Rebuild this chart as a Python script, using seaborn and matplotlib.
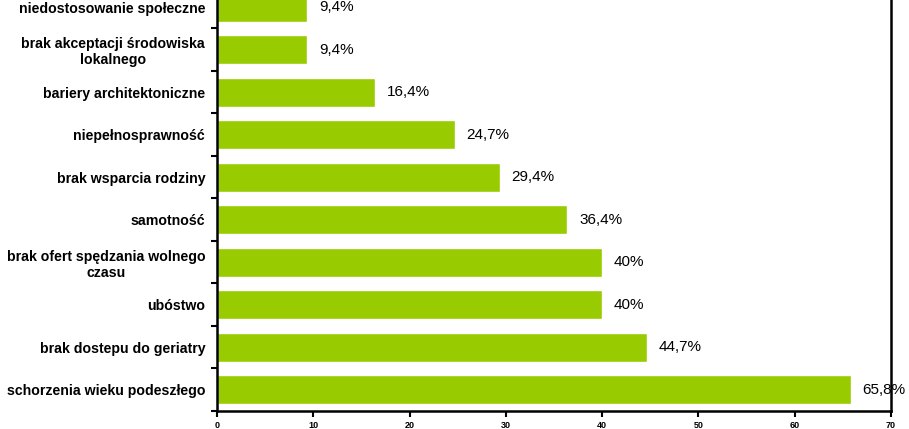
import numpy as np
import pandas as pd
import matplotlib
matplotlib.use("Agg")
import matplotlib.pyplot as plt
import seaborn as sns

# dane z wykresu (od góry do dołu)
kategorie = [
    "niedostosowanie społeczne",
    "brak akceptacji środowiska\nlokalnego",
    "bariery architektoniczne",
    "niepełnosprawność",
    "brak wsparcia rodziny",
    "samotność",
    "brak ofert spędzania wolnego\nczasu",
    "ubóstwo",
    "brak dostepu do geriatry",
    "schorzenia wieku podeszłego",
]
wartosci = [9.4, 9.4, 16.4, 24.7, 29.4, 36.4, 40, 40, 44.7, 65.8]
etykiety = ["9,4%", "9,4%", "16,4%", "24,7%", "29,4%", "36,4%", "40%", "40%", "44,7%", "65,8%"]
x_ticks = [0, 10, 20, 30, 40, 50, 60, 70]

sns.set_style("white")
plt.rcParams['font.family'] = ['Liberation Sans', 'DejaVu Sans']
plt.rcParams['text.color'] = 'black'
plt.rcParams['xtick.color'] = 'black'
plt.rcParams['ytick.color'] = 'black'

df = pd.DataFrame({"kategoria": kategorie, "procent": wartosci})

fig = plt.figure(figsize=(9.09, 4.29), dpi=100)
ax = fig.add_axes([0.2387, 0.042, 0.7415, 0.991])

sns.barplot(data=df, x="procent", y="kategoria", orient="h", color="#99CC00",
            saturation=1, width=0.68, ax=ax)

for i, (v, t) in enumerate(zip(wartosci, etykiety)):
    ax.text(v + 1.2, i, t, va="center", ha="left", fontsize=11, color="black")

ax.set_xlim(0, 70)
ax.set_ylim(len(kategorie) - 0.5, -0.5)
ax.set_xticks(x_ticks)
ax.set_xticklabels([str(t) for t in x_ticks], fontsize=6.5, fontweight="bold")
ax.set_xlabel("")
ax.set_ylabel("")

ax.set_yticks(range(len(kategorie)))
ax.set_yticklabels(kategorie, fontsize=10.2, fontweight="bold", ha="right",
                   multialignment="center", color="black")
ax.tick_params(axis="y", which="major", left=True, length=0, pad=8.5)
ax.set_yticks(np.arange(-0.5, len(kategorie), 1), minor=True)
ax.tick_params(axis="y", which="minor", left=True, length=4, width=1.5, direction="out")
ax.tick_params(axis="x", which="major", bottom=True, length=4, width=1.5, direction="out", pad=3)

for s in ["left", "bottom", "right"]:
    ax.spines[s].set_visible(True)
    ax.spines[s].set_linewidth(1.8)
    ax.spines[s].set_color("black")
ax.spines["top"].set_visible(False)

fig.savefig("out.png", dpi=100)
